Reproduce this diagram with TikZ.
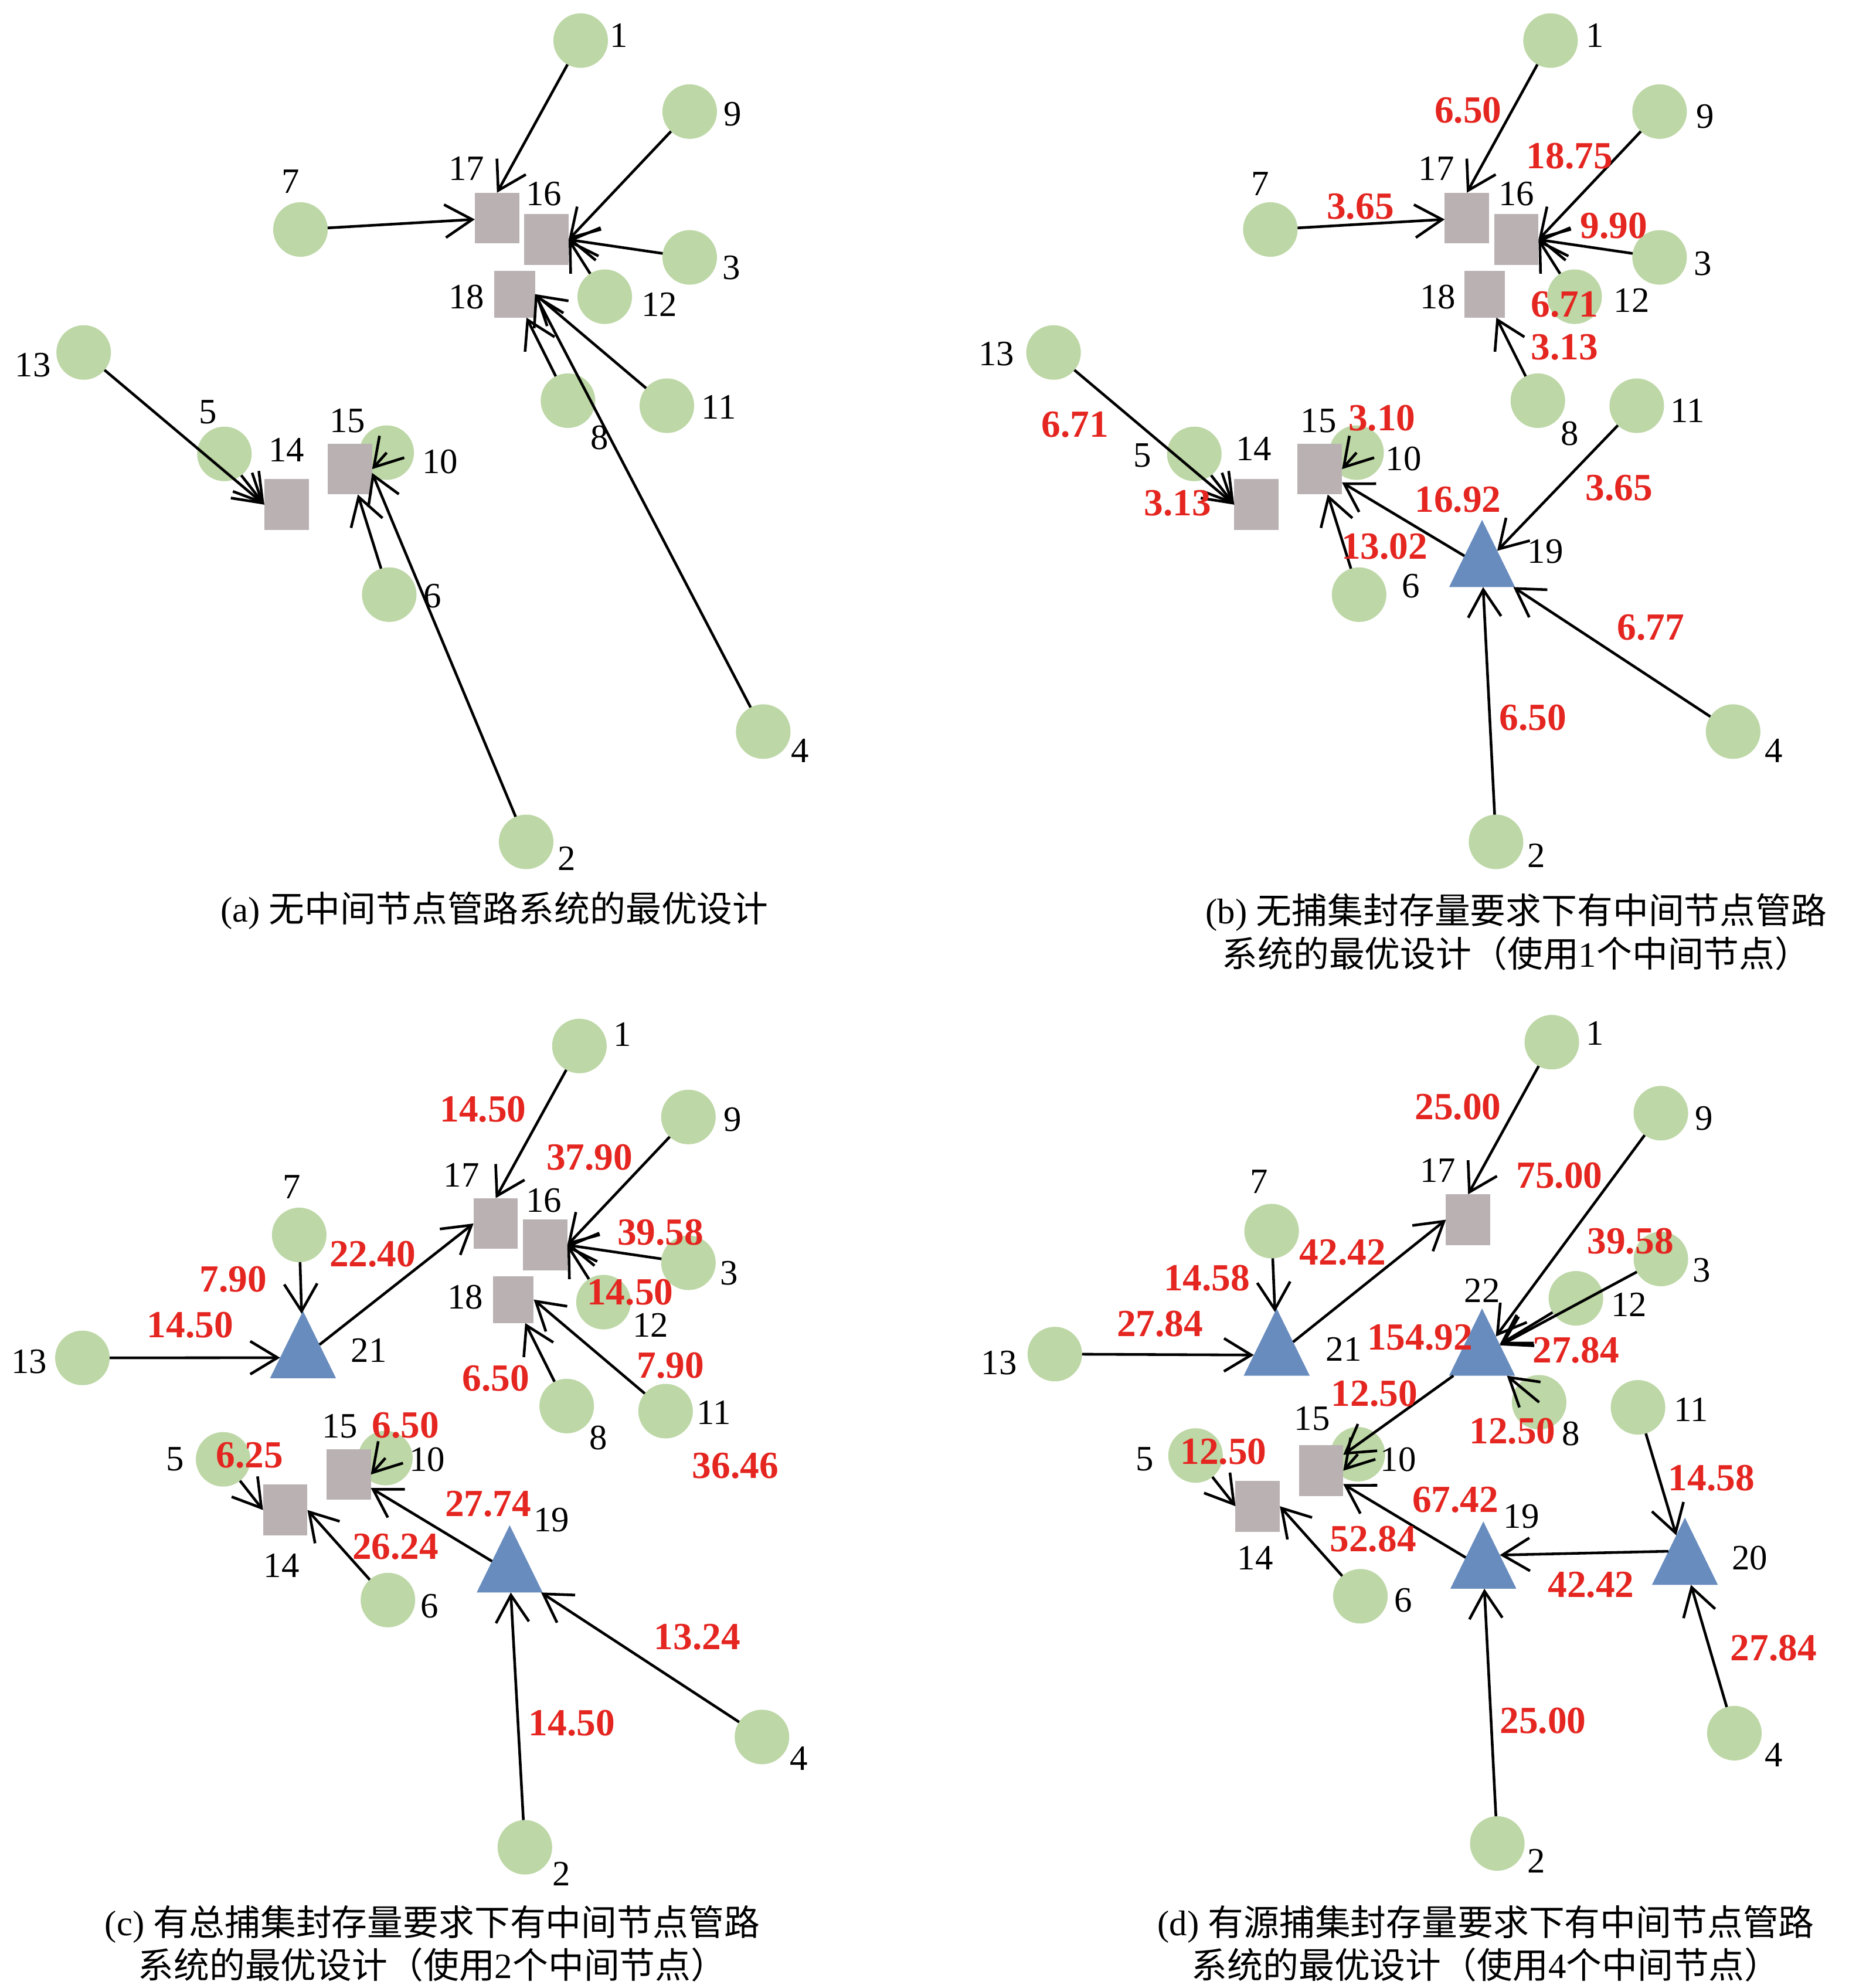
\documentclass[tikz,border=0pt]{standalone}
\usepackage{fontspec}
\setmainfont{Liberation Serif}
\newfontfamily\cjk{Noto Sans CJK SC}
\usetikzlibrary{shapes.geometric,arrows.meta}
\definecolor{srcgreen}{RGB}{189,215,166}
\definecolor{hubgray}{RGB}{186,178,178}
\definecolor{hubblue}{RGB}{104,140,190}
\definecolor{flowred}{RGB}{228,37,32}

\tikzset{
  src/.style={circle,fill=srcgreen,minimum size=0.43cm,inner sep=0pt,outer sep=0pt},
  hub/.style={rectangle,fill=hubgray,minimum width=0.35cm,minimum height=0.40cm,inner sep=0pt,outer sep=0pt},
  hubtri/.style={isosceles triangle,isosceles triangle stretches=true,shape border rotate=90,
    minimum width=0.52cm,minimum height=0.53cm,inner sep=0pt,outer sep=0pt,fill=hubblue,anchor=apex},
  pipe/.style={-{Straight Barb[length=2.15mm,width=2.6mm]},line width=0.6pt,black},
  nlabel/.style={font=\fontsize{8}{9}\selectfont,inner sep=0pt},
  flowval/.style={font=\fontsize{8.6}{10}\selectfont\bfseries,text=flowred,inner sep=0pt},
  caption/.style={font=\fontsize{8}{9.7}\selectfont,align=center,inner sep=0pt}
}

% the 13 sources sit at the same place in every panel
\newcommand{\drawsources}[1]{%
  \foreach \n/\x/\y in {1/458/32,2/415/664,3/544/203,4/602/577,5/177/358,6/307/469,7/237/181,
      8/448/316,9/544/88,10/305/357,11/526/320,12/477/234,13/66/278}
    \node[src] (#1\n) at (\x,\y) {};
}
\newcommand{\drawsquares}[1]{%
  \foreach \n/\x/\y in {14/226/398,15/276/370,16/431/189,17/392/172}
    \node[hub] (#1\n) at (\x,\y) {};
  \node[hub,minimum width=0.32cm,minimum height=0.37cm] (#118) at (406,232) {};
}

\begin{document}
\begin{tikzpicture}[x=0.01cm,y=-0.01cm]
  \useasboundingbox (0,0) rectangle (1458,1568);

  % (a)
  \begin{scope}
    \drawsources{a}
    \drawsquares{a}
  \end{scope}
  \foreach \s/\t in {1/17.north,7/17,9/16.east,3/16.east,12/16.east,11/18.east,8/18,4/18.east,
      13/14.west,5/14.west,6/15,10.center/15.east}
    \draw[pipe] (a\s) -- (a\t);
  \draw[pipe] (a2) -- ([yshift=-0.03cm]a15.east);
  \foreach \t/\x/\y in {1/488/28,2/447/677,3/577/211,4/631/592,5/164/325,6/341/470,7/229/143,
      8/473/345,9/578/90,10/347/364,11/567/321,12/520/240,13/26/288,14/226/355,15/274/332,
      16/429/153,17/368/133,18/368/234}
    \node[nlabel] (a-n\t) at (\x,\y) {\t};
  \node[caption] (a-cap) at (390,718) {(a) {\cjk 无中间节点管路系统的最优设计}};

  % (b)
  \begin{scope}[shift={(765,0)}]
    \drawsources{b}
    \drawsquares{b}
    \node[hubtri] (b19) at (404,410) {};
  \end{scope}
  \foreach \s/\t in {1/17.north,7/17,9/16.east,3/16.east,12/16.east,8/18,13/14.west,5/14.west,
      6/15,19/15,10.center/15.east,11/19,4/19,2/19}
    \draw[pipe] (b\s) -- (b\t);
  \foreach \t/\x/\y in {1/1258/28,2/1212/675,3/1343/208,4/1399/592,5/901/359,6/1113/462,
      7/994/145,8/1238/342,9/1345/92,10/1107/362,11/1331/324,12/1287/237,13/786/279,
      14/989/354,15/1040/332,16/1196/153,17/1133/133,18/1134/234,19/1219/435}
    \node[nlabel] (b-n\t) at (\x,\y) {\t};
  \foreach \v/\x/\y [count=\i] in {6.50/1158/87,18.75/1238/123,3.65/1073/163,9.90/1273/178,
      6.71/1234/240,3.13/1234/274,6.71/848/335,3.13/929/397,3.10/1090/330,16.92/1150/394,
      3.65/1277/385,13.02/1092/431,6.77/1302/495,6.50/1209/566}
    \node[flowval] (b-f\i) at (\x,\y) {\v};
  \node[caption] (b-cap) at (1196,735) {(b) {\cjk 无捕集封存量要求下有中间节点管路}\\
    {\cjk 系统的最优设计（使用}1{\cjk 个中间节点）}};

  % (c)
  \begin{scope}[shift={(-1,793)}]
    \drawsources{c}
    \drawsquares{c}
    \node[hubtri] (c21) at (240,241) {};
    \node[hubtri] (c19) at (403,410) {};
  \end{scope}
  \foreach \s/\t in {1/17.north,21/17.west,7/21,13/21,9/16.east,3/16.east,12/16.east,11/18.east,
      8/18,5/14.west,6/14.east,19/15,10.center/15.east,2/19,4/19}
    \draw[pipe] (c\s) -- (c\t);
  \foreach \t/\x/\y in {1/491/816,2/443/1478,3/575/1004,4/630/1387,5/138/1151,6/339/1267,
      7/230/936,8/472/1134,9/578/883,10/337/1151,11/563/1114,12/513/1045,13/23/1074,
      14/222/1235,15/268/1125,16/429/947,17/364/927,18/367/1023,19/435/1199,21/291/1065}
    \node[nlabel] (c-n\t) at (\x,\y) {\t};
  \foreach \v/\x/\y [count=\i] in {14.50/381/875,37.90/465/913,22.40/294/989,7.90/184/1009,
      39.58/521/972,14.50/497/1019,14.50/150/1045,7.90/529/1077,6.50/391/1087,36.46/580/1156,
      6.50/320/1124,6.25/197/1148,27.74/385/1186,26.24/312/1220,13.24/550/1291,14.50/451/1359}
    \node[flowval] (c-f\i) at (\x,\y) {\v};
  \node[caption] (c-cap) at (341,1533) {(c) {\cjk 有总捕集封存量要求下有中间节点管路}\\
    {\cjk 系统的最优设计（使用}2{\cjk 个中间节点）}};

  % (d)
  \begin{scope}[shift={(766,790)}]
    \drawsources{d}
    \foreach \n/\x/\y in {14/226/398,15/276/370,17/392/172}
      \node[hub] (d\n) at (\x,\y) {};
    \node[hubtri] (d22) at (403,242) {};
    \node[hubtri] (d21) at (241,242) {};
    \node[hubtri] (d19) at (404,410) {};
    \node[hubtri] (d20) at (563,407) {};
  \end{scope}
  \foreach \s/\t in {1/17.north,21/17.west,7/21,13/21,9/22,3/22,12/22,8.center/22,22/15,
      19/15,10.center/15.east,5/14.west,6/14.east,2/19,11/20,4/20,20.left side/19.right side}
    \draw[pipe] (d\s) -- (d\t);
  \foreach \t/\x/\y in {1/1258/815,2/1212/1468,3/1342/1002,4/1399/1384,5/903/1151,6/1107/1262,
      7/993/932,8/1239/1131,9/1344/882,10/1103/1151,11/1334/1112,12/1285/1029,13/788/1075,
      14/990/1229,15/1035/1119,17/1134/923,19/1200/1196,20/1380/1229,21/1060/1064,22/1169/1018}
    \node[nlabel] (d-n\t) at (\x,\y) {\t};
  \foreach \v/\x/\y [count=\i] in {25.00/1150/873,75.00/1230/927,42.42/1059/988,14.58/952/1008,
      39.58/1286/979,27.84/915/1044,154.92/1120/1055,27.84/1243/1065,12.50/1084/1099,
      12.50/1193/1129,12.50/965/1145,14.58/1350/1166,67.42/1148/1183,52.84/1083/1214,
      42.42/1255/1250,27.84/1399/1300,25.00/1217/1357}
    \node[flowval] (d-f\i) at (\x,\y) {\v};
  \node[caption] (d-cap) at (1172,1533) {(d) {\cjk 有源捕集封存量要求下有中间节点管路}\\
    {\cjk 系统的最优设计（使用}4{\cjk 个中间节点）}};
\end{tikzpicture}
\end{document}
